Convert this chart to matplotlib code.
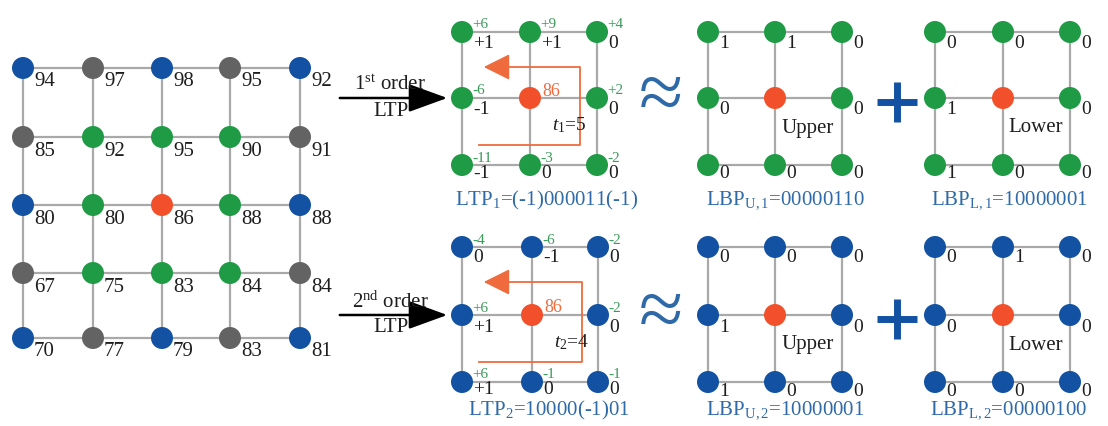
import matplotlib.pyplot as plt
from matplotlib.patches import Circle

plt.rcParams['font.family'] = ['Liberation Serif', 'DejaVu Serif']
plt.rcParams['mathtext.fontset'] = 'custom'
plt.rcParams['mathtext.rm'] = 'Liberation Serif'
plt.rcParams['mathtext.it'] = 'Liberation Serif:italic'

# ---- data ----
pixel_vals = [
    [94, 97, 98, 95, 92],
    [85, 92, 95, 90, 91],
    [80, 80, 86, 88, 88],
    [67, 75, 83, 84, 84],
    [70, 77, 79, 83, 81],
]
# B = blue (2nd order ring), G = grey, g = green (1st order), R = centre
pixel_kind = [
    "BGBGB",
    "GgggG",
    "BgRgB",
    "GgggG",
    "BGBGB",
]
# 3x3 neighbourhood, centre entry is None
ltp1_diff = [["+6", "+9", "+4"], ["-6", None, "+2"], ["-11", "-3", "-2"]]
ltp1_code = [["+1", "+1", "0"], ["-1", None, "0"], ["-1", "0", "0"]]
ltp2_diff = [["-4", "-6", "-2"], ["+6", None, "-2"], ["+6", "-1", "-1"]]
ltp2_code = [["0", "-1", "0"], ["+1", None, "0"], ["+1", "0", "0"]]
lbp_u1 = [["1", "1", "0"], ["0", None, "0"], ["0", "0", "0"]]
lbp_l1 = [["0", "0", "0"], ["1", None, "0"], ["1", "0", "0"]]
lbp_u2 = [["0", "0", "0"], ["1", None, "0"], ["1", "0", "0"]]
lbp_l2 = [["0", "1", "0"], ["0", None, "0"], ["0", "0", "0"]]
centre_val = "86"
thresholds = ["$t_{1}$=5", "$t_{2}$=4"]
order_labels = ["1$^{\\mathrm{st}}$ order", "2$^{\\mathrm{nd}}$ order"]
ltp_labels = ["LTP$_{1}$=(-1)000011(-1)", "LTP$_{2}$=10000(-1)01"]
lbp_labels = [
    ["LBP$_{\\mathrm{U,1}}$=00000110", "LBP$_{\\mathrm{L,1}}$=10000001"],
    ["LBP$_{\\mathrm{U,2}}$=10000001", "LBP$_{\\mathrm{L,2}}$=00000100"],
]

# ---- colours ----
C_BLUE = "#1352a3"
C_GREY = "#636363"
C_GREEN = "#1f9a45"
C_RED = "#f2502a"
C_LINE = "#a9a9a9"
C_TXT = "#1e1e1e"
C_GTXT = "#3a9a5a"
C_BTXT = "#2f6aa8"
C_ORANGE = "#ef6b3e"
kind_col = {"B": C_BLUE, "G": C_GREY, "g": C_GREEN, "R": C_RED}

fig = plt.figure(figsize=(11.08, 4.26), dpi=100)
ax = fig.add_axes([0, 0, 1, 1])
ax.set_xlim(0, 1108)
ax.set_ylim(426, 0)
ax.set_aspect("equal")
ax.axis("off")


def dot(x, y, c, r=11):
    ax.add_patch(Circle((x, y), r, color=c, zorder=3, lw=0))


def lattice(xs, ys):
    for y in ys:
        ax.plot([xs[0], xs[-1]], [y, y], color=C_LINE, lw=1.6, zorder=1)
    for x in xs:
        ax.plot([x, x], [ys[0], ys[-1]], color=C_LINE, lw=1.6, zorder=1)


# ---- left 5x5 image patch ----
big_x = [23, 93, 162, 230, 300]
big_y = [68, 137, 205, 273, 338]
lattice(big_x, big_y)
for i, row in enumerate(pixel_vals):
    for j, v in enumerate(row):
        dot(big_x[j], big_y[i], kind_col[pixel_kind[i][j]])
        ax.text(big_x[j] + 11, big_y[i] + 14, str(v), fontsize=15,
                color=C_TXT, ha="left", va="center", zorder=4)


def small_grid(xs, ys, col, top=None, bot=None, top_col=C_GTXT, bot_dy=(11, 12, 8)):
    lattice(xs, ys)
    for i in range(3):
        for j in range(3):
            if i == 1 and j == 1:
                dot(xs[j], ys[i], C_RED)
                continue
            dot(xs[j], ys[i], col)
            if top is not None:
                ax.text(xs[j] + 10, ys[i] - 7, top[i][j], fontsize=11,
                        color=top_col, ha="left", va="center", zorder=4)
            if bot is not None:
                ax.text(xs[j] + 11, ys[i] + bot_dy[i], bot[i][j], fontsize=14,
                        color=C_TXT, ha="left", va="center", zorder=4)


rows_y = [[32, 98, 165], [247, 315, 382]]
label_y = [200, 410]
ltp_x = [[462, 530, 597], [462, 532, 598]]
ltp_sets = [(ltp1_diff, ltp1_code, C_GREEN), (ltp2_diff, ltp2_code, C_BLUE)]
lbp_sets = [(lbp_u1, lbp_l1), (lbp_u2, lbp_l2)]
lbp_xu = [708, 775, 842]
lbp_xl = [935, 1003, 1070]

for k in range(2):
    ys = rows_y[k]
    diff, code, col = ltp_sets[k]
    xs = ltp_x[k]
    small_grid(xs, ys, col, top=diff, bot=code)
    # centre value
    ax.text(xs[1] + 12, ys[1] - 7, centre_val, fontsize=13, color=C_ORANGE,
            ha="left", va="center", zorder=4)
    # threshold text
    ax.text(xs[1] + 22, ys[1] + 27, thresholds[k], fontsize=14, color=C_TXT,
            ha="left", va="center", zorder=4)
    # red circular scan path
    left_x, right_x = xs[0] + 17, xs[1] + 50
    top_y, bot_y = ys[0] + 35, ys[2] - 20
    ax.plot([left_x, right_x, right_x, left_x + 16],
            [bot_y, bot_y, top_y, top_y], color=C_ORANGE, lw=1.3, zorder=2)
    ax.annotate("", xy=(left_x + 2, top_y), xytext=(left_x + 18, top_y),
                arrowprops=dict(arrowstyle="-|>,head_length=0.9,head_width=0.45",
                                color=C_ORANGE, lw=1.3, mutation_scale=18),
                zorder=2)
    # order arrow
    ax.annotate("", xy=(xs[0] - 12, ys[1]), xytext=(337, ys[1]),
                arrowprops=dict(arrowstyle="-|>,head_length=1.1,head_width=0.4",
                                color="black", lw=1.8, mutation_scale=22),
                zorder=2)
    ax.text(390, ys[1] - 13, order_labels[k], fontsize=15, color=C_TXT,
            ha="center", va="center")
    ax.text(391, ys[1] + 13, "LTP", fontsize=15, color=C_TXT,
            ha="center", va="center")
    ax.text(xs[1] + 17, label_y[k], ltp_labels[k], fontsize=15, color=C_BTXT,
            ha="center", va="center")

    # approx sign
    ax.text(661, ys[1] + 1, "\u2248", fontsize=58, color=C_BTXT,
            ha="center", va="center")

    # upper / lower LBP grids
    up, lo = lbp_sets[k]
    small_grid(lbp_xu, ys, col, bot=up, bot_dy=(11, 12, 9))
    small_grid(lbp_xl, ys, col, bot=lo, bot_dy=(11, 12, 9))
    ax.text(lbp_xu[1] + 7, ys[1] + 30, "Upper", fontsize=15, color=C_TXT,
            ha="left", va="center", zorder=4)
    ax.text(lbp_xl[1] + 5, ys[1] + 30, "Lower", fontsize=15, color=C_TXT,
            ha="left", va="center", zorder=4)
    ax.text(785, label_y[k], lbp_labels[k][0], fontsize=15, color=C_BTXT,
            ha="center", va="center")
    ax.text(1009, label_y[k], lbp_labels[k][1], fontsize=15, color=C_BTXT,
            ha="center", va="center")

    # plus sign
    px, py = 897, ys[1] + 4
    ax.plot([px - 20, px + 20], [py, py], color=C_BLUE, lw=5, solid_capstyle="butt")
    ax.plot([px, px], [py - 20, py + 20], color=C_BLUE, lw=5, solid_capstyle="butt")

fig.savefig("out.png", dpi=100, facecolor="white")
